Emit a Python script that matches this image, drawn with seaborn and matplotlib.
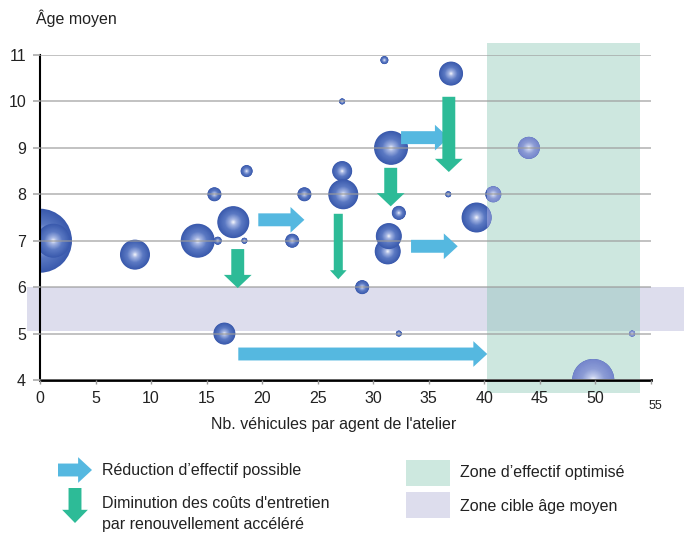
import numpy as np
import pandas as pd
import matplotlib
matplotlib.use("Agg")
import matplotlib.pyplot as plt
import seaborn as sns
from matplotlib.patches import Rectangle, Polygon, FancyArrowPatch
from matplotlib.colors import LinearSegmentedColormap

# valeurs (une bulle = un atelier)
nb_vehicules = [0.0, 1.2, 8.55, 14.2, 16.0, 17.4, 18.4, 22.7, 15.7, 18.6, 23.8, 27.2, 27.2, 27.3,
                31.0, 37.0, 31.6, 44.0, 36.75, 40.8, 32.3, 31.3, 31.4, 39.3, 29.0, 16.6, 32.3, 53.3, 49.8]
age_moyen = [7.0, 7.0, 6.7, 7.0, 7.0, 7.4, 7.0, 7.0, 8.0, 8.5, 8.0, 10.0, 8.5, 8.0,
             10.89, 10.6, 9.0, 9.0, 8.0, 8.0, 7.6, 6.77, 7.1, 7.5, 6.0, 5.0, 5.0, 5.0, 4.0]
rayon_bulle = [32, 17, 15, 17, 4, 16, 3, 7, 7, 6, 7, 3, 10, 15,
               4, 12, 17, 11, 3, 8, 7, 13, 13, 15, 7, 11, 3, 3, 21]  # rayon en pixels

x_ticks = [0, 5, 10, 15, 20, 25, 30, 35, 40, 45, 50, 55]
y_ticks = [4, 5, 6, 7, 8, 9, 10, 11]

zone_effectif = (40.2, 54.0)   # zone d'effectif optimisé (nb véhicules)
zone_age = (5.05, 6.0)         # zone cible âge moyen

# flèches : (queue x, pointe x, y) et (x, haut y, pointe y)
fleches_bleues = [(19.65, 23.8, 7.45), (32.5, 36.8, 9.22), (33.4, 37.6, 6.88), (17.85, 40.26, 4.56)]
fleches_vertes = [(36.8, 10.1, 8.48), (31.57, 8.57, 7.74), (17.8, 6.82, 5.98), (26.85, 7.58, 6.17)]

bleu_fleche = '#55b8e0'
vert_fleche = '#2dbb97'
vert_zone = (130/255, 197/255, 175/255)
violet_zone = '#dddded'
texte = '#222222'
police = 11.5

W, H = 684, 534
def px(x, y):
    """pixels (depuis le haut) -> fraction de figure"""
    return x / W, 1 - y / H

sns.set_theme(style="white")
plt.rcParams['font.family'] = ['Liberation Sans', 'DejaVu Sans']

fig = plt.figure(figsize=(6.84, 5.34), dpi=100)
ax = fig.add_axes([40/W, 1 - 380/H, 611/W, 325/H])
ax.set_xlim(0, 55)
ax.set_ylim(4, 11)

# bulles en dégradé : couches concentriques de plus en plus claires
n_couches = 28
rows = []
for x, y, r in zip(nb_vehicules, age_moyen, rayon_bulle):
    for k in range(n_couches):
        f = k / n_couches
        rows.append({'x': x, 'y': y, 's': (2 * r * (1 - f) * 0.72) ** 2, 'teinte': f})
bulles = pd.DataFrame(rows)
smin, smax = bulles['s'].min(), bulles['s'].max()

cmap_bleu = LinearSegmentedColormap.from_list(
    'bulle', [(0, '#3a5aad'), (0.45, '#5b79c3'), (0.8, '#a8b8e4'), (1, '#ffffff')])
cmap_clair = LinearSegmentedColormap.from_list(
    'bulle_clair', [(0, '#7586cc'), (0.45, '#8d9dd6'), (0.8, '#c3cdee'), (1, '#ffffff')])

def rect_data(x0, x1, y0, y1):
    return Polygon([(x0, y0), (x1, y0), (x1, y1), (x0, y1)], closed=True, transform=ax.transData)

def dessine_bulles(cmap, clip, z):
    avant = len(ax.collections)
    sns.scatterplot(data=bulles, x='x', y='y', size='s', sizes=(smin, smax), size_norm=(smin, smax),
                    hue='teinte', palette=cmap, hue_norm=(0, 1), linewidth=0, edgecolor='none',
                    legend=False, ax=ax)
    for coll in ax.collections[avant:]:
        coll.set_clip_on(True)
        coll.set_clip_path(clip)
        coll.set_zorder(z)

# les bulles sont coupées aux axes (0 et 4), plus claires dans la zone verte
dessine_bulles(cmap_bleu, rect_data(0, 55, 4, 11.3), 1)
dessine_bulles(cmap_clair, rect_data(zone_effectif[0], zone_effectif[1], 4, 11.3), 1.2)

# zones
ax.add_patch(Rectangle((-1.15, zone_age[0]), 62, zone_age[1] - zone_age[0], color=violet_zone,
                       lw=0, clip_on=False, zorder=0.2))
ax.add_patch(Rectangle((zone_effectif[0], 3.72), zone_effectif[1] - zone_effectif[0], 7.54,
                       color=vert_zone, alpha=0.4, lw=0, clip_on=False, zorder=0.5))

# flèches
for x0, x1, y in fleches_bleues:
    ax.add_patch(FancyArrowPatch((x0, y), (x1, y), mutation_scale=10, color=bleu_fleche, lw=0,
                                 arrowstyle='simple,head_length=1.0,head_width=1.85,tail_width=0.93',
                                 shrinkA=0, shrinkB=0, zorder=4, clip_on=False))
for x, y0, y1 in fleches_vertes:
    petite = (y0 - y1) > 1.3 and x < 30
    if petite:
        style = 'simple,head_length=0.65,head_width=1.2,tail_width=0.65'
    else:
        style = 'simple,head_length=0.95,head_width=2.0,tail_width=0.93'
    ax.add_patch(FancyArrowPatch((x, y0), (x, y1), mutation_scale=10, color=vert_fleche, lw=0,
                                 arrowstyle=style, shrinkA=0, shrinkB=0, zorder=4, clip_on=False))

ax.set_xticks(x_ticks)
ax.set_xticklabels([str(t) for t in x_ticks[:-1]] + [''])
ax.set_yticks(y_ticks)
ax.set_xlabel('')
ax.set_ylabel('')
ax.grid(axis='y', color='#9a9a9a', alpha=0.7, lw=1.2)
ax.grid(axis='x', visible=False)
ax.set_axisbelow(False)
sns.despine(ax=ax)
ax.spines['left'].set_color('black')
ax.spines['left'].set_linewidth(1.5)
ax.spines['bottom'].set_color('black')
ax.spines['bottom'].set_linewidth(2)
ax.tick_params(axis='x', bottom=True, length=3, width=1, color='#999999', pad=5, labelsize=police,
               labelcolor=texte)
ax.tick_params(axis='y', left=True, length=5, width=1.2, color='#aaaaaa', pad=5, labelsize=police,
               labelcolor=texte)

fig.text(*px(649, 406), '55', fontsize=9, color=texte, ha='left', va='center')
fig.text(*px(36, 18), 'Âge moyen', fontsize=police, color=texte, ha='left', va='center')
fig.text(*px(334, 425), "Nb. véhicules par agent de l'atelier", fontsize=police, color=texte,
         ha='center', va='center')

# légende
fig.add_artist(FancyArrowPatch(px(58, 470), px(92, 470), transform=fig.transFigure, mutation_scale=10,
                               color=bleu_fleche, lw=0, shrinkA=0, shrinkB=0,
                               arrowstyle='simple,head_length=1.0,head_width=1.85,tail_width=0.93'))
fig.add_artist(FancyArrowPatch(px(75, 488), px(75, 523), transform=fig.transFigure, mutation_scale=10,
                               color=vert_fleche, lw=0, shrinkA=0, shrinkB=0,
                               arrowstyle='simple,head_length=0.95,head_width=1.85,tail_width=0.93'))
fig.add_artist(Rectangle(px(406, 486), 44/W, 26/H, transform=fig.transFigure, color='#cde8df', lw=0))
fig.add_artist(Rectangle(px(406, 518), 44/W, 26/H, transform=fig.transFigure, color=violet_zone, lw=0))
fig.text(*px(102, 471), 'Réduction d’effectif possible', fontsize=police, color=texte, va='center')
fig.text(*px(102, 504), "Diminution des coûts d'entretien", fontsize=police, color=texte, va='center')
fig.text(*px(102, 524), 'par renouvellement accéléré', fontsize=police, color=texte, va='center')
fig.text(*px(460, 473), 'Zone d’effectif optimisé', fontsize=police, color=texte, va='center')
fig.text(*px(460, 507), 'Zone cible âge moyen', fontsize=police, color=texte, va='center')

fig.savefig('out.png', dpi=100)
